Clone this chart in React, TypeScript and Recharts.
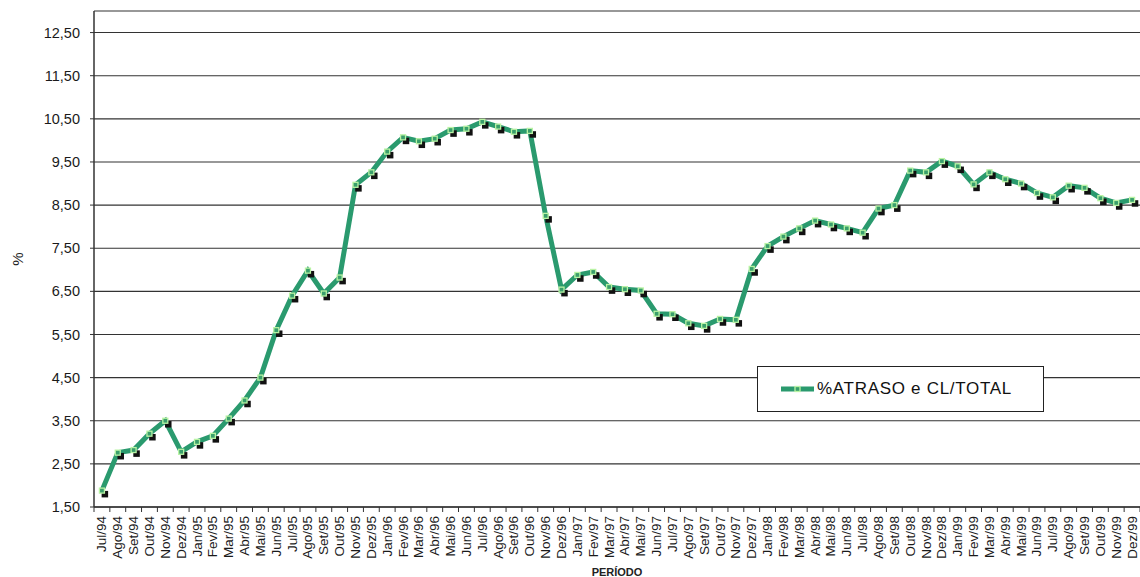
import React from 'react';
import { LineChart, Line, XAxis, YAxis, CartesianGrid, Legend } from 'recharts';

// Monthly categories, Jul/94 – Dez/99
const months = [
  'Jul/94', 'Ago/94', 'Set/94', 'Out/94', 'Nov/94', 'Dez/94',
  'Jan/95', 'Fev/95', 'Mar/95', 'Abr/95', 'Mai/95', 'Jun/95',
  'Jul/95', 'Ago/95', 'Set/95', 'Out/95', 'Nov/95', 'Dez/95',
  'Jan/96', 'Fev/96', 'Mar/96', 'Abr/96', 'Mai/96', 'Jun/96',
  'Jul/96', 'Ago/96', 'Set/96', 'Out/96', 'Nov/96', 'Dez/96',
  'Jan/97', 'Fev/97', 'Mar/97', 'Abr/97', 'Mai/97', 'Jun/97',
  'Jul/97', 'Ago/97', 'Set/97', 'Out/97', 'Nov/97', 'Dez/97',
  'Jan/98', 'Fev/98', 'Mar/98', 'Abr/98', 'Mai/98', 'Jun/98',
  'Jul/98', 'Ago/98', 'Set/98', 'Out/98', 'Nov/98', 'Dez/98',
  'Jan/99', 'Fev/99', 'Mar/99', 'Abr/99', 'Mai/99', 'Jun/99',
  'Jul/99', 'Ago/99', 'Set/99', 'Out/99', 'Nov/99', 'Dez/99',
];

// % ATRASO e CL / TOTAL
const atrasoTotal = [
  1.88, 2.76, 2.82, 3.2, 3.5, 2.78,
  3.01, 3.15, 3.55, 3.97, 4.5, 5.6,
  6.4, 6.98, 6.45, 6.82, 8.97, 9.26,
  9.74, 10.07, 9.98, 10.04, 10.24, 10.27,
  10.43, 10.32, 10.2, 10.22, 8.25, 6.54,
  6.88, 6.95, 6.6, 6.55, 6.52, 5.98,
  5.97, 5.76, 5.7, 5.86, 5.84, 7.02,
  7.55, 7.77, 7.96, 8.14, 8.05, 7.96,
  7.86, 8.42, 8.5, 9.3, 9.26, 9.52,
  9.4, 8.98, 9.26, 9.1, 9.0, 8.78,
  8.68, 8.95, 8.9, 8.66, 8.55, 8.62,
];

const yTicks = [1.5, 2.5, 3.5, 4.5, 5.5, 6.5, 7.5, 8.5, 9.5, 10.5, 11.5, 12.5];

const SERIES_NAME = '%ATRASO e CL/TOTAL';

const data = months.map((m, i) => ({ mes: m, valor: atrasoTotal[i] }));

const CHART_W = 1140;
const CHART_H = 577;
const Y_AXIS_W = 94;
const PLOT_W = CHART_W - Y_AXIS_W;
const STEP = PLOT_W / months.length;

const FONT = '"Liberation Sans", Arial, sans-serif';
const LINE_COLOR = '#2a9a6e';
const AXIS_COLOR = '#333';

const fmt = (v: number) => v.toFixed(2).replace('.', ',');

// Category label rotated, with tick marks between categories
const MonthTick = (props: any) => {
  const { x, y, payload, index } = props;
  const left = x - STEP / 2;
  const right = x + STEP / 2;
  return (
    <g>
      <line x1={left} x2={left} y1={y} y2={y + 5} stroke={AXIS_COLOR} strokeWidth={1} />
      {index === months.length - 1 && (
        <line x1={right} x2={right} y1={y} y2={y + 5} stroke={AXIS_COLOR} strokeWidth={1} />
      )}
      <text
        transform={`translate(${x},${y + 9}) rotate(-90)`}
        textAnchor="end"
        dominantBaseline="central"
        fontFamily={FONT}
        fontSize={13.5}
        fill="#1a1a1a"
      >
        {payload.value}
      </text>
    </g>
  );
};

// Square marker with a dark drop shadow
const MarkerDot = (props: any) => {
  const { cx, cy, index } = props;
  if (cx == null || cy == null) return null;
  return (
    <g key={`dot-${index}`}>
      <rect x={cx - 0.3} y={cy + 0.3} width={6.5} height={6.5} fill="#111" />
      <rect
        x={cx - 2.5}
        y={cy - 2.5}
        width={5}
        height={5}
        fill="#3a9f6c"
        stroke="#b9f3a4"
        strokeWidth={1.3}
      />
    </g>
  );
};

const LegendBox = () => (
  <div
    style={{
      boxSizing: 'border-box',
      width: 287,
      height: 46,
      border: '1.5px solid #222',
      background: '#fff',
      display: 'flex',
      alignItems: 'center',
      paddingLeft: 22,
      fontFamily: FONT,
    }}
  >
    <svg width={36} height={12} style={{ display: 'block' }}>
      <line x1={1} x2={34} y1={6} y2={6} stroke={LINE_COLOR} strokeWidth={5} />
      <rect x={15} y={3.5} width={5} height={5} fill="#3a9f6c" stroke="#b9f3a4" strokeWidth={1.3} />
    </svg>
    <span style={{ fontSize: 17, color: '#111', letterSpacing: 0.7, marginLeft: 1 }}>{SERIES_NAME}</span>
  </div>
);

export default function App() {
  return (
    <div style={{ position: 'absolute', left: 0, top: 0, width: CHART_W, height: CHART_H, background: '#fff' }}>
      <LineChart
        width={CHART_W}
        height={CHART_H}
        data={data}
        margin={{ top: 11, right: 0, bottom: 0, left: 0 }}
      >
        <CartesianGrid horizontal vertical={false} stroke="#333" strokeWidth={1.1} />
        <XAxis
          dataKey="mes"
          interval={0}
          height={70}
          padding={{ left: STEP / 2, right: STEP / 2 }}
          tickLine={false}
          tickSize={0}
          tickMargin={0}
          axisLine={{ stroke: AXIS_COLOR, strokeWidth: 1.5 }}
          tick={<MonthTick />}
          label={{
            value: 'PERÍODO',
            position: 'insideBottom',
            offset: 1,
            style: { fontFamily: FONT, fontSize: 11, fontWeight: 'bold', fill: '#222' },
          }}
        />
        <YAxis
          width={Y_AXIS_W}
          domain={[1.5, 13]}
          ticks={yTicks}
          allowDataOverflow
          tickFormatter={fmt}
          tickSize={4}
          tickMargin={10}
          tickLine={{ stroke: AXIS_COLOR }}
          axisLine={{ stroke: AXIS_COLOR, strokeWidth: 1.5 }}
          tick={{ fontFamily: FONT, fontSize: 14.5, fill: '#1a1a1a' }}
          label={{
            value: '%',
            angle: -90,
            position: 'center',
            dx: -29,
            style: { fontFamily: FONT, fontSize: 15, fill: '#222' },
          }}
        />
        <Legend
          layout="vertical"
          align="center"
          verticalAlign="middle"
          content={<LegendBox />}
          wrapperStyle={{ position: 'absolute', left: 757, top: 366, width: 287, height: 46 }}
        />
        <Line
          type="linear"
          dataKey="valor"
          name={SERIES_NAME}
          stroke={LINE_COLOR}
          strokeWidth={5}
          dot={<MarkerDot />}
          activeDot={false}
          isAnimationActive={false}
        />
      </LineChart>
    </div>
  );
}
